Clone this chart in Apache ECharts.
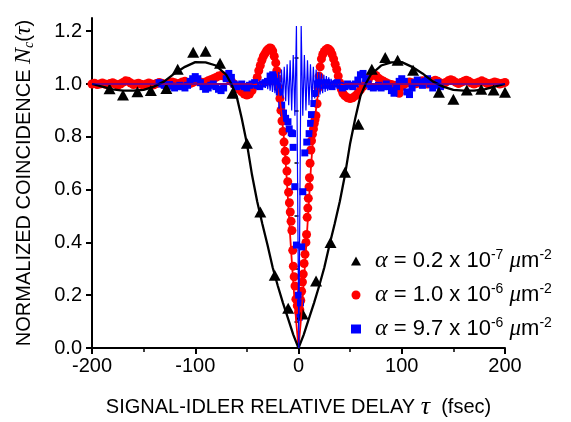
<!DOCTYPE html>
<html>
<head>
<meta charset="utf-8">
<script src="https://cdn.jsdelivr.net/npm/echarts@6/dist/echarts.min.js"></script>
<style>
  html, body { margin: 0; background: #fff; }
  #chart { width: 571px; height: 422px; }
</style>
</head>
<body>
<div id="chart"></div>
<script>
// 符合计数 N_c(τ) 与信号-闲频相对延迟 τ，三种啁啾参数 α 的散点 + 拟合曲线。

// 坐标轴刻度
const xTicks = [-200, -100, 0, 100, 200];
const xMinor = [-150, -50, 50, 150];
const yTicks = [0, 0.2, 0.4, 0.6, 0.8, 1.0, 1.2];
const yMinor = [0.1, 0.3, 0.5, 0.7, 0.9, 1.1];

// α = 0.2e-7：三角形测量点 [τ, N_c]
const blackPts = [
  [-183, 0.982], [-170, 0.958], [-156, 0.971], [-143, 0.975], [-128, 0.983],
  [-117, 1.056], [-102, 1.12], [-90, 1.124], [-76, 1.079], [-64, 0.965],
  [-50, 0.776], [-37, 0.515], [-23, 0.276], [-10, 0.151], [4, 0.129],
  [17, 0.254], [31, 0.40], [45, 0.666], [58, 0.848], [71, 1.056],
  [84, 1.10], [96, 1.09], [111, 1.052], [136, 0.969], [150, 0.942],
  [163, 0.977], [177, 0.98], [189, 0.977], [200, 0.969]
];
// α = 0.2e-7：理论曲线
const blackFit = [
  [-200, 1.0], [-190, 0.99], [-180, 0.98], [-170, 0.975], [-160, 0.975], [-150, 0.978],
  [-140, 0.99], [-130, 1.01], [-120, 1.04], [-110, 1.065], [-100, 1.083], [-90, 1.082],
  [-80, 1.07], [-70, 1.035], [-65, 1.0], [-60, 0.955], [-55, 0.87], [-50, 0.775],
  [-45, 0.655], [-40, 0.555], [-35, 0.47], [-30, 0.39], [-25, 0.305], [-20, 0.235],
  [-15, 0.17], [-10, 0.11], [-5, 0.05], [0, 0], [5, 0.05], [10, 0.11], [15, 0.17],
  [20, 0.235], [25, 0.305], [30, 0.39], [35, 0.47], [40, 0.555], [45, 0.655],
  [50, 0.775], [55, 0.87], [60, 0.955], [65, 1.0], [70, 1.035], [80, 1.07],
  [90, 1.082], [100, 1.083], [110, 1.065], [120, 1.04], [130, 1.01], [140, 0.99],
  [150, 0.978], [160, 0.975], [170, 0.975], [180, 0.98], [190, 0.99], [200, 1.0]
];

// α = 1.0e-6：圆点测量点
const redPts = [
  [-200, 1.0], [-197.5, 1.003], [-195, 0.998], [-192.5, 1.0], [-190, 1.004], [-187.5, 1.0],
  [-185, 0.997], [-182.5, 1.002], [-180, 1.005], [-177.5, 1.0], [-175, 0.996], [-172.5, 1.0],
  [-170, 1.006], [-167.5, 1.012], [-165, 1.01], [-162.5, 1.004], [-160, 0.998], [-157.5, 1.0],
  [-155, 1.003], [-152.5, 0.999], [-150, 0.996], [-147.5, 1.0], [-145, 1.004], [-142.5, 1.0],
  [-140, 0.997], [-137.5, 1.002], [-135, 1.006], [-132.5, 1.003], [-130, 0.999], [-127.5, 1.0],
  [-125, 1.004], [-122.5, 1.008], [-120, 1.005], [-117.5, 1.0], [-115, 1.003], [-112.5, 1.008],
  [-110, 1.01], [-107.5, 1.006], [-105, 1.002], [-102.5, 1.005], [-100, 1.01], [-97.5, 1.012],
  [-95, 1.008], [-92.5, 1.004], [-90, 1.008], [-87.5, 1.012], [-85, 1.016], [-82.5, 1.02],
  [-80, 1.025], [-77.5, 1.03], [-75, 1.032], [-72.5, 1.03], [-70, 1.026], [-67.5, 1.02],
  [-65, 1.01], [-62.5, 1.0], [-60, 0.99], [-57.5, 0.98], [-55, 0.97], [-52.5, 0.962],
  [-50, 0.958], [-47.5, 0.962], [-45, 0.975], [-42.5, 0.995], [-40, 1.025], [-38.5, 1.05],
  [-37, 1.07], [-35.5, 1.09], [-34, 1.105], [-32.5, 1.115], [-31, 1.125], [-29.5, 1.132],
  [-28, 1.136], [-26.5, 1.135], [-25, 1.125], [-23.5, 1.105], [-22, 1.08], [-21, 1.05],
  [-20, 1.02], [-19, 0.985], [-18, 0.945], [-17, 0.9], [-16, 0.86], [-15, 0.82],
  [-14, 0.78], [-13, 0.745], [-12, 0.71], [-11.2, 0.67], [-10.4, 0.63], [-9.6, 0.59],
  [-8.8, 0.55], [-8, 0.515], [-7.2, 0.48], [-6.4, 0.445], [-5.6, 0.37], [-5, 0.31],
  [-4.2, 0.27], [-3.4, 0.235], [-2.5, 0.185], [-1.2, 0.16], [0.2, 0.135], [1.3, 0.145],
  [2.2, 0.18], [3, 0.215], [3.8, 0.25], [4.6, 0.28], [5.4, 0.32], [6.3, 0.355],
  [7.2, 0.4], [7.8, 0.43], [8.4, 0.495], [9, 0.53], [9.5, 0.567], [10.2, 0.61],
  [10.6, 0.645], [11.2, 0.7], [12, 0.75], [12.6, 0.785], [13.5, 0.81], [14.5, 0.83],
  [15.3, 0.85], [16, 0.865], [16.9, 0.88], [18, 0.925], [19, 0.985], [20, 1.03],
  [21, 1.065], [22.2, 1.095], [23.5, 1.112], [25, 1.123], [26.5, 1.13], [28, 1.134],
  [29.5, 1.132], [31, 1.125], [32.5, 1.112], [34, 1.095], [35.5, 1.075], [37, 1.055],
  [38.5, 1.03], [40, 1.005], [41.5, 0.98], [43, 0.965], [45, 0.955], [47.5, 0.948],
  [50, 0.945], [52.5, 0.948], [55, 0.955], [57.5, 0.965], [60, 0.978], [62.5, 0.99],
  [65, 1.002], [67.5, 1.015], [70, 1.03], [72.5, 1.038], [75, 1.032], [77.5, 1.022],
  [80, 1.015], [82.5, 1.01], [85, 1.005], [87.5, 1.0], [90, 0.998], [92.5, 0.995],
  [95, 0.99], [97.5, 0.965], [100, 0.99], [102.5, 1.0], [105, 1.004], [107.5, 1.008],
  [110, 1.005], [112.5, 1.0], [115, 1.003], [117.5, 1.008], [120, 1.012], [122.5, 1.006],
  [125, 1.0], [127.5, 1.004], [130, 1.01], [132.5, 1.014], [135, 1.01], [137.5, 1.004],
  [140, 1.0], [142.5, 1.006], [145, 1.012], [147.5, 1.016], [150, 1.012], [152.5, 1.006],
  [155, 1.002], [157.5, 1.006], [160, 1.01], [162.5, 1.014], [165, 1.01], [167.5, 1.004],
  [170, 1.0], [172.5, 1.004], [175, 1.008], [177.5, 1.012], [180, 1.008], [182.5, 1.003],
  [185, 1.0], [187.5, 1.004], [190, 1.008], [192.5, 1.005], [195, 1.0], [197.5, 1.003],
  [200, 1.006]
];
// α = 1.0e-6：理论曲线
const redFit = [
  [-200, 1], [-25, 1], [-22, 0.995], [-20, 0.98], [-18, 0.94], [-16, 0.87], [-14, 0.79],
  [-12, 0.68], [-10, 0.55], [-8, 0.42], [-6, 0.3], [-4, 0.19], [-2, 0.09], [0, 0],
  [2, 0.09], [4, 0.19], [6, 0.3], [8, 0.42], [10, 0.55], [12, 0.68], [14, 0.79],
  [16, 0.87], [18, 0.94], [20, 0.98], [22, 0.995], [25, 1], [200, 1]
];

// α = 9.7e-6：方块测量点
const bluePts = [
  [-135, 1.005], [-132.5, 1.0], [-130, 0.995], [-127.5, 0.99], [-125, 0.998], [-122.5, 0.992],
  [-120, 0.985], [-117.5, 0.99], [-115, 0.995], [-112.5, 0.99], [-110, 0.985], [-107.5, 0.995],
  [-105, 1.01], [-102.5, 1.02], [-100, 1.028], [-97.5, 1.02], [-95, 1.005], [-92.5, 0.99],
  [-90, 0.98], [-87.5, 0.985], [-85, 0.995], [-82.5, 1.0], [-80, 0.99], [-77.5, 0.98],
  [-75, 0.975], [-72.5, 0.985], [-70, 1.02], [-67.5, 1.04], [-65, 1.025], [-62.5, 1.0],
  [-60, 0.99], [-57.5, 0.995], [-55, 1.0], [-52.5, 0.99], [-50, 0.985], [-47.5, 0.995],
  [-45, 1.0], [-42.5, 1.005], [-40, 0.995], [-37.5, 0.99], [-35, 1.0], [-32.5, 1.005],
  [-30, 1.01], [-27.5, 1.03], [-25, 1.035], [-22.5, 1.01], [-20.5, 0.99], [-18.6, 0.97],
  [-16.3, 0.92], [-14.5, 0.89], [-12.5, 0.87], [-10.2, 0.857], [-9, 0.83], [-7, 0.815],
  [-5.8, 0.812], [-5.2, 0.76], [-3.6, 0.611], [-2, 0.39], [-0.4, 0.2], [0.6, 0.116],
  [1.9, 0.171], [3.4, 0.383], [4.2, 0.592], [6.1, 0.739], [8, 0.78], [10.3, 0.812],
  [11.7, 0.851], [12.6, 0.884], [14.9, 0.926], [16.8, 0.964], [18.4, 1.0], [20.5, 1.005],
  [22.5, 0.995], [25, 1.0], [27.5, 1.005], [30, 0.995], [32.5, 0.99], [35, 1.0],
  [37.5, 1.005], [40, 0.995], [42.5, 0.985], [45, 0.99], [47.5, 1.0], [50, 0.995],
  [52.5, 0.99], [55, 1.0], [57.5, 1.015], [60, 1.035], [62.5, 1.04], [65, 1.02],
  [67.5, 1.0], [70, 0.99], [72.5, 0.985], [75, 0.99], [77.5, 0.995], [80, 0.985],
  [82.5, 0.99], [85, 1.0], [87.5, 0.99], [90, 0.975], [92.5, 0.965], [95, 0.99],
  [97.5, 1.01], [100, 1.02], [102.5, 1.01], [105, 0.97], [107.5, 0.96], [110, 0.985],
  [112.5, 1.005], [115, 1.015], [117.5, 1.005], [120, 0.995], [122.5, 1.01], [125, 1.02],
  [127.5, 1.0], [130, 0.985], [132.5, 0.995], [135, 1.005], [137.5, 0.99]
];
// α = 9.7e-6：理论曲线（中心附近的快速干涉条纹）
const blueFit = [
  [-200, 1], [-45, 1], [-40.2, 1.005], [-39, 0.995], [-37.9, 1.008], [-36.7, 0.993],
  [-35.6, 1.01], [-34.4, 0.99], [-33.3, 1.015], [-32.1, 0.985], [-31, 1.02], [-29.8, 0.98],
  [-28.7, 1.025], [-27.5, 0.975], [-26.4, 1.03], [-25.2, 0.97], [-24, 1.035], [-22.8, 0.965],
  [-21.6, 1.04], [-20.3, 0.96], [-19.1, 1.045], [-17.8, 0.955], [-16.5, 1.055], [-15.1, 0.945],
  [-13.8, 1.065], [-12.4, 0.935], [-11, 1.075], [-9.5, 0.92], [-8.1, 1.09], [-6.6, 0.9],
  [-5.1, 1.11], [-3.5, 0.88], [-2, 1.22], [0.3, 0], [2.6, 1.22], [4.15, 0.88],
  [5.7, 1.11], [7.2, 0.9], [8.7, 1.09], [10.15, 0.92], [11.6, 1.075], [13, 0.935],
  [14.4, 1.065], [15.75, 0.945], [17.1, 1.055], [18.4, 0.955], [19.7, 1.045], [20.95, 0.96],
  [22.2, 1.04], [23.4, 0.965], [24.6, 1.035], [25.8, 0.97], [27, 1.03], [28.15, 0.975],
  [29.3, 1.025], [30.45, 0.98], [31.6, 1.02], [32.75, 0.985], [33.9, 1.015], [35.05, 0.99],
  [36.2, 1.01], [37.35, 0.993], [38.5, 1.008], [39.65, 0.995], [40.8, 1.005], [45, 1],
  [200, 1]
];

const SANS = 'Liberation Sans';
const SERIF = 'Liberation Serif';

const legendLabels = {
  a1: '{a|α}{t| = 0.2 x 10}{s|-7}{t| }{u|μ}{t|m}{s|-2}',
  a2: '{a|α}{t| = 1.0 x 10}{s|-6}{t| }{u|μ}{t|m}{s|-2}',
  a3: '{a|α}{t| = 9.7 x 10}{s|-6}{t| }{u|μ}{t|m}{s|-2}'
};

const chart = echarts.init(document.getElementById('chart'));

const axisLine = { onZero: false, lineStyle: { color: '#000', width: 2 } };
const majorTick = { length: 6, lineStyle: { color: '#000', width: 2 } };
const minorTickStyle = { length: 4, lineStyle: { color: '#000', width: 1.5 } };

chart.setOption({
  animation: false,
  backgroundColor: '#fff',
  grid: { left: 92, right: 66, top: 18, bottom: 74, outerBoundsMode: 'none' },
  legend: {
    orient: 'vertical',
    left: 346,
    top: 243,
    itemGap: 9,
    itemWidth: 10,
    itemHeight: 9,
    selectedMode: false,
    data: [
      { name: 'a1', icon: 'triangle' },
      { name: 'a2', icon: 'circle' },
      { name: 'a3', icon: 'rect' }
    ],
    formatter: (n) => legendLabels[n],
    textStyle: {
      color: '#000',
      rich: {
        a: { fontFamily: SERIF, fontStyle: 'italic', fontSize: 24, lineHeight: 26, color: '#000', padding: [0, 0, 0, 9] },
        u: { fontFamily: SERIF, fontStyle: 'italic', fontSize: 23, lineHeight: 26, color: '#000' },
        t: { fontFamily: SANS, fontSize: 22, lineHeight: 26, color: '#000' },
        s: { fontFamily: SANS, fontSize: 14, lineHeight: 14, verticalAlign: 'top', color: '#000' }
      }
    }
  },
  xAxis: [
    {
      type: 'value', min: -200, max: 200, interval: 100,
      name: '{t|SIGNAL-IDLER RELATIVE DELAY }{i|τ}{t|  (fsec)}',
      nameLocation: 'middle', nameGap: 46,
      nameTextStyle: {
        rich: {
          t: { fontFamily: SANS, fontSize: 20, color: '#000' },
          i: { fontFamily: SERIF, fontStyle: 'italic', fontSize: 26, color: '#000' }
        }
      },
      axisLine: axisLine,
      axisTick: Object.assign({ customValues: xTicks }, majorTick),
      axisLabel: { customValues: xTicks, fontFamily: SANS, fontSize: 20, color: '#000', margin: 8 },
      splitLine: { show: false }
    },
    {
      type: 'value', min: -200, max: 200, position: 'bottom',
      axisLine: { show: false },
      axisTick: Object.assign({ customValues: xMinor }, minorTickStyle),
      axisLabel: { show: false },
      splitLine: { show: false }
    }
  ],
  yAxis: [
    {
      type: 'value', min: 0, max: 1.25, interval: 0.2,
      name: '{t|NORMALIZED COINCIDENCE }{i|N}{c|c}{t|(}{i|τ}{t|)}',
      nameLocation: 'middle', nameGap: 56,
      nameTextStyle: {
        rich: {
          t: { fontFamily: SANS, fontSize: 20, lineHeight: 24, color: '#000' },
          i: { fontFamily: SERIF, fontStyle: 'italic', fontSize: 24, lineHeight: 24, color: '#000' },
          c: { fontFamily: SERIF, fontStyle: 'italic', fontSize: 14, lineHeight: 14, verticalAlign: 'bottom', color: '#000' }
        }
      },
      axisLine: axisLine,
      axisTick: Object.assign({ customValues: yTicks }, majorTick),
      axisLabel: {
        customValues: yTicks, fontFamily: SANS, fontSize: 20, color: '#000', margin: 10,
        formatter: (v) => v.toFixed(1)
      },
      splitLine: { show: false }
    },
    {
      type: 'value', min: 0, max: 1.25, position: 'left',
      axisLine: { show: false },
      axisTick: Object.assign({ customValues: yMinor }, minorTickStyle),
      axisLabel: { show: false },
      splitLine: { show: false }
    }
  ],
  series: [
    {
      name: 'a2', type: 'scatter', data: redPts,
      symbol: 'circle', symbolSize: 9,
      itemStyle: { color: '#ff0000', opacity: 1 }
    },
    {
      name: 'a3', type: 'scatter', data: bluePts,
      symbol: 'rect', symbolSize: 7,
      itemStyle: { color: '#0000ff', opacity: 1 }
    },
    {
      name: 'a1', type: 'scatter', data: blackPts,
      symbol: 'triangle', symbolSize: [12, 11],
      itemStyle: { color: '#000', opacity: 1 }
    },
    {
      type: 'line', data: redFit, showSymbol: false, symbol: 'none',
      lineStyle: { color: '#ff0000', width: 1.8 }
    },
    {
      type: 'line', data: blackFit, showSymbol: false, symbol: 'none',
      lineStyle: { color: '#000', width: 2.3 }
    },
    {
      type: 'line', data: blueFit, showSymbol: false, symbol: 'none',
      lineStyle: { color: '#0000ff', width: 1.2 }
    }
  ]
});
</script>
</body>
</html>
